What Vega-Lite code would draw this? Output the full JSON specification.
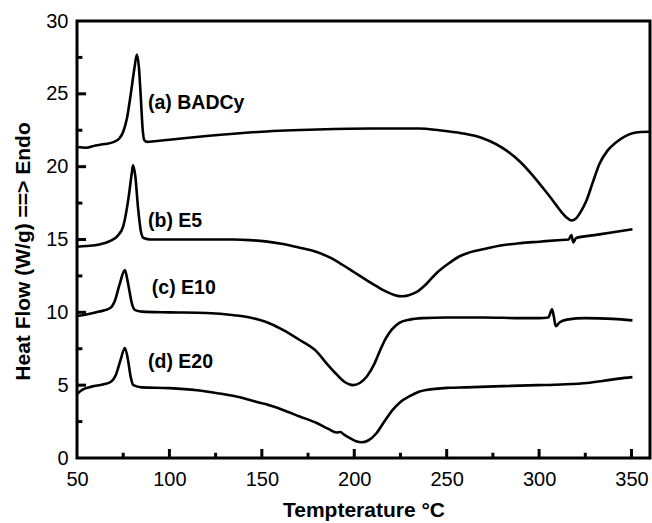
{
  "$schema": "https://vega.github.io/schema/vega-lite/v6.json",
  "width": 573,
  "height": 437,
  "autosize": {"type": "none"},
  "padding": {"left": 77, "top": 21, "right": 2, "bottom": 65},
  "background": "white",
  "config": {
    "view": {"stroke": "black", "strokeWidth": 3},
    "font": "Liberation Sans",
    "axis": {
      "grid": false,
      "domain": false,
      "ticks": false,
      "labelColor": "black",
      "labelFont": "Liberation Sans",
      "labelFontSize": 20,
      "labelFlush": false,
      "labelOverlap": false,
      "titleColor": "black",
      "titleFont": "Liberation Sans",
      "titleFontSize": 21,
      "titleFontWeight": "bold"
    }
  },
  "datasets": {
    "curves": [
      {"sample": "a", "T": 50, "H": 21.35}, {"sample": "a", "T": 55, "H": 21.3}, {"sample": "a", "T": 60, "H": 21.45}, {"sample": "a", "T": 65, "H": 21.55}, {"sample": "a", "T": 70, "H": 21.7}, {"sample": "a", "T": 73, "H": 21.95}, {"sample": "a", "T": 75, "H": 22.4}, {"sample": "a", "T": 77, "H": 23.3}, {"sample": "a", "T": 79, "H": 24.9}, {"sample": "a", "T": 81, "H": 26.7}, {"sample": "a", "T": 82.4, "H": 27.7}, {"sample": "a", "T": 83.5, "H": 26.8}, {"sample": "a", "T": 84.5, "H": 24.8}, {"sample": "a", "T": 85.5, "H": 22.6}, {"sample": "a", "T": 86.5, "H": 21.8}, {"sample": "a", "T": 88, "H": 21.7}, {"sample": "a", "T": 92, "H": 21.75}, {"sample": "a", "T": 100, "H": 21.85}, {"sample": "a", "T": 120, "H": 22.1}, {"sample": "a", "T": 150, "H": 22.4}, {"sample": "a", "T": 180, "H": 22.55}, {"sample": "a", "T": 210, "H": 22.62}, {"sample": "a", "T": 235, "H": 22.62}, {"sample": "a", "T": 246, "H": 22.5}, {"sample": "a", "T": 258, "H": 22.3}, {"sample": "a", "T": 269.5, "H": 21.95}, {"sample": "a", "T": 282.4, "H": 21.1}, {"sample": "a", "T": 290, "H": 20.3}, {"sample": "a", "T": 296.5, "H": 19.4}, {"sample": "a", "T": 302, "H": 18.55}, {"sample": "a", "T": 307.3, "H": 17.7}, {"sample": "a", "T": 312, "H": 16.9}, {"sample": "a", "T": 315, "H": 16.5}, {"sample": "a", "T": 317.6, "H": 16.3}, {"sample": "a", "T": 320, "H": 16.45}, {"sample": "a", "T": 322.5, "H": 16.9}, {"sample": "a", "T": 325.7, "H": 17.7}, {"sample": "a", "T": 329, "H": 18.9}, {"sample": "a", "T": 332.7, "H": 20.2}, {"sample": "a", "T": 337, "H": 21.1}, {"sample": "a", "T": 341.9, "H": 21.7}, {"sample": "a", "T": 346, "H": 22.05}, {"sample": "a", "T": 350.5, "H": 22.3}, {"sample": "a", "T": 355, "H": 22.38}, {"sample": "a", "T": 360, "H": 22.4},
      {"sample": "b", "T": 50, "H": 14.5}, {"sample": "b", "T": 55, "H": 14.55}, {"sample": "b", "T": 62, "H": 14.65}, {"sample": "b", "T": 68, "H": 14.9}, {"sample": "b", "T": 72, "H": 15.25}, {"sample": "b", "T": 75, "H": 15.9}, {"sample": "b", "T": 77.7, "H": 17.7}, {"sample": "b", "T": 79.7, "H": 19.6}, {"sample": "b", "T": 80.3, "H": 20.1}, {"sample": "b", "T": 81.5, "H": 19.4}, {"sample": "b", "T": 83, "H": 17.2}, {"sample": "b", "T": 84.5, "H": 15.6}, {"sample": "b", "T": 86, "H": 15.1}, {"sample": "b", "T": 90, "H": 15.0}, {"sample": "b", "T": 110, "H": 15.0}, {"sample": "b", "T": 135, "H": 15.0}, {"sample": "b", "T": 143.5, "H": 14.96}, {"sample": "b", "T": 152, "H": 14.87}, {"sample": "b", "T": 161.4, "H": 14.69}, {"sample": "b", "T": 170, "H": 14.45}, {"sample": "b", "T": 179.7, "H": 14.14}, {"sample": "b", "T": 187, "H": 13.75}, {"sample": "b", "T": 193.8, "H": 13.25}, {"sample": "b", "T": 200, "H": 12.75}, {"sample": "b", "T": 206.8, "H": 12.2}, {"sample": "b", "T": 212, "H": 11.8}, {"sample": "b", "T": 217.6, "H": 11.4}, {"sample": "b", "T": 222, "H": 11.18}, {"sample": "b", "T": 225.7, "H": 11.1}, {"sample": "b", "T": 229.5, "H": 11.18}, {"sample": "b", "T": 233.8, "H": 11.4}, {"sample": "b", "T": 239, "H": 11.95}, {"sample": "b", "T": 244.6, "H": 12.7}, {"sample": "b", "T": 251.6, "H": 13.4}, {"sample": "b", "T": 257, "H": 13.85}, {"sample": "b", "T": 262, "H": 14.1}, {"sample": "b", "T": 272, "H": 14.4}, {"sample": "b", "T": 280, "H": 14.6}, {"sample": "b", "T": 290, "H": 14.75}, {"sample": "b", "T": 300, "H": 14.85}, {"sample": "b", "T": 310, "H": 14.95}, {"sample": "b", "T": 316, "H": 15.0}, {"sample": "b", "T": 317.5, "H": 15.3}, {"sample": "b", "T": 318.5, "H": 14.8}, {"sample": "b", "T": 320, "H": 15.1}, {"sample": "b", "T": 330, "H": 15.3}, {"sample": "b", "T": 340, "H": 15.5}, {"sample": "b", "T": 350.5, "H": 15.7},
      {"sample": "c", "T": 50, "H": 9.75}, {"sample": "c", "T": 55, "H": 9.85}, {"sample": "c", "T": 62, "H": 10.05}, {"sample": "c", "T": 68, "H": 10.3}, {"sample": "c", "T": 70.5, "H": 10.8}, {"sample": "c", "T": 73, "H": 11.9}, {"sample": "c", "T": 75.9, "H": 12.9}, {"sample": "c", "T": 77.6, "H": 12.0}, {"sample": "c", "T": 79.7, "H": 10.6}, {"sample": "c", "T": 81.5, "H": 10.15}, {"sample": "c", "T": 85, "H": 10.05}, {"sample": "c", "T": 100, "H": 10.0}, {"sample": "c", "T": 120, "H": 9.95}, {"sample": "c", "T": 135, "H": 9.8}, {"sample": "c", "T": 143.5, "H": 9.65}, {"sample": "c", "T": 152, "H": 9.35}, {"sample": "c", "T": 161.4, "H": 8.8}, {"sample": "c", "T": 170.5, "H": 8.1}, {"sample": "c", "T": 179.7, "H": 7.3}, {"sample": "c", "T": 185, "H": 6.5}, {"sample": "c", "T": 190, "H": 5.8}, {"sample": "c", "T": 195, "H": 5.2}, {"sample": "c", "T": 199.2, "H": 5.0}, {"sample": "c", "T": 203, "H": 5.15}, {"sample": "c", "T": 206.8, "H": 5.6}, {"sample": "c", "T": 211, "H": 6.5}, {"sample": "c", "T": 214, "H": 7.4}, {"sample": "c", "T": 217, "H": 8.2}, {"sample": "c", "T": 220.5, "H": 8.85}, {"sample": "c", "T": 224.6, "H": 9.3}, {"sample": "c", "T": 230, "H": 9.5}, {"sample": "c", "T": 237, "H": 9.6}, {"sample": "c", "T": 250, "H": 9.65}, {"sample": "c", "T": 270, "H": 9.65}, {"sample": "c", "T": 290, "H": 9.6}, {"sample": "c", "T": 300, "H": 9.6}, {"sample": "c", "T": 305, "H": 9.65}, {"sample": "c", "T": 307, "H": 10.2}, {"sample": "c", "T": 308, "H": 9.7}, {"sample": "c", "T": 309, "H": 9.05}, {"sample": "c", "T": 311, "H": 9.3}, {"sample": "c", "T": 315, "H": 9.5}, {"sample": "c", "T": 325, "H": 9.6}, {"sample": "c", "T": 340, "H": 9.55}, {"sample": "c", "T": 350.5, "H": 9.45},
      {"sample": "d", "T": 50, "H": 4.4}, {"sample": "d", "T": 53, "H": 4.7}, {"sample": "d", "T": 58, "H": 4.9}, {"sample": "d", "T": 64, "H": 5.05}, {"sample": "d", "T": 68, "H": 5.2}, {"sample": "d", "T": 71, "H": 5.7}, {"sample": "d", "T": 73.5, "H": 6.7}, {"sample": "d", "T": 75.9, "H": 7.55}, {"sample": "d", "T": 77.5, "H": 6.8}, {"sample": "d", "T": 79, "H": 5.6}, {"sample": "d", "T": 80.5, "H": 5.0}, {"sample": "d", "T": 85, "H": 4.85}, {"sample": "d", "T": 100, "H": 4.8}, {"sample": "d", "T": 115, "H": 4.65}, {"sample": "d", "T": 126, "H": 4.45}, {"sample": "d", "T": 135, "H": 4.25}, {"sample": "d", "T": 143.5, "H": 3.98}, {"sample": "d", "T": 152, "H": 3.7}, {"sample": "d", "T": 161.4, "H": 3.3}, {"sample": "d", "T": 170.5, "H": 2.85}, {"sample": "d", "T": 179.7, "H": 2.4}, {"sample": "d", "T": 186, "H": 2.0}, {"sample": "d", "T": 190.5, "H": 1.75}, {"sample": "d", "T": 192.5, "H": 1.78}, {"sample": "d", "T": 194.5, "H": 1.6}, {"sample": "d", "T": 197.6, "H": 1.37}, {"sample": "d", "T": 201, "H": 1.15}, {"sample": "d", "T": 204, "H": 1.08}, {"sample": "d", "T": 207.5, "H": 1.2}, {"sample": "d", "T": 212, "H": 1.7}, {"sample": "d", "T": 216, "H": 2.45}, {"sample": "d", "T": 220.8, "H": 3.3}, {"sample": "d", "T": 225, "H": 3.85}, {"sample": "d", "T": 230, "H": 4.25}, {"sample": "d", "T": 235, "H": 4.55}, {"sample": "d", "T": 239, "H": 4.67}, {"sample": "d", "T": 251.6, "H": 4.82}, {"sample": "d", "T": 260, "H": 4.85}, {"sample": "d", "T": 272, "H": 4.9}, {"sample": "d", "T": 285, "H": 4.95}, {"sample": "d", "T": 299, "H": 5.0}, {"sample": "d", "T": 312, "H": 5.05}, {"sample": "d", "T": 326, "H": 5.15}, {"sample": "d", "T": 335, "H": 5.3}, {"sample": "d", "T": 343, "H": 5.45}, {"sample": "d", "T": 350.5, "H": 5.55}
    ],
    "labels": [
      {"T": 88.4, "H": 24.4, "label": "(a) BADCy"},
      {"T": 88.4, "H": 16.3, "label": "(b) E5"},
      {"T": 90.5, "H": 11.7, "label": "(c) E10"},
      {"T": 88.4, "H": 6.6, "label": "(d) E20"}
    ],
    "xMajor": [{"T": 100}, {"T": 150}, {"T": 200}, {"T": 250}, {"T": 300}, {"T": 350}],
    "xMinor": [{"T": 75}, {"T": 125}, {"T": 175}, {"T": 225}, {"T": 275}, {"T": 325}],
    "yMajor": [{"H": 5}, {"H": 10}, {"H": 15}, {"H": 20}, {"H": 25}],
    "yMinor": [{"H": 2.5}, {"H": 7.5}, {"H": 12.5}, {"H": 17.5}, {"H": 22.5}, {"H": 27.5}]
  },
  "layer": [
    {
      "data": {"name": "curves"},
      "mark": {"type": "line", "color": "black", "strokeWidth": 2.6, "interpolate": "monotone"},
      "encoding": {
        "x": {
          "field": "T", "type": "quantitative",
          "scale": {"domain": [50, 360], "nice": false, "zero": false},
          "axis": {"orient": "bottom", "values": [50, 100, 150, 200, 250, 300, 350], "labelPadding": 11, "title": "Tempterature °C", "titlePadding": 10}
        },
        "y": {
          "field": "H", "type": "quantitative",
          "scale": {"domain": [0, 30], "nice": false, "zero": false},
          "axis": {"orient": "left", "values": [0, 5, 10, 15, 20, 25, 30], "labelPadding": 9, "title": "Heat Flow (W/g) ==> Endo", "titlePadding": 12, "titleY": 230}
        },
        "detail": {"field": "sample"}
      }
    },
    {
      "data": {"name": "labels"},
      "mark": {"type": "text", "align": "left", "baseline": "middle", "fontSize": 19.5, "fontWeight": "bold", "font": "Liberation Sans", "color": "black"},
      "encoding": {
        "x": {"field": "T", "type": "quantitative",
          "axis": {"orient": "bottom", "values": [50, 100, 150, 200, 250, 300, 350], "labelPadding": 11, "title": "Tempterature °C", "titlePadding": 10}},
        "y": {"field": "H", "type": "quantitative",
          "axis": {"orient": "left", "values": [0, 5, 10, 15, 20, 25, 30], "labelPadding": 9, "title": "Heat Flow (W/g) ==> Endo", "titlePadding": 12, "titleY": 230}},
        "text": {"field": "label"}
      }
    },
    {
      "data": {"name": "xMajor"},
      "mark": {"type": "rule", "color": "black", "strokeWidth": 3},
      "encoding": {
        "x": {"field": "T", "type": "quantitative",
          "axis": {"orient": "bottom", "values": [50, 100, 150, 200, 250, 300, 350], "labelPadding": 11, "title": "Tempterature °C", "titlePadding": 10}},
        "y": {"datum": 0, "type": "quantitative",
          "axis": {"orient": "left", "values": [0, 5, 10, 15, 20, 25, 30], "labelPadding": 9, "title": "Heat Flow (W/g) ==> Endo", "titlePadding": 12, "titleY": 230}},
        "y2": {"datum": 0.62}
      }
    },
    {
      "data": {"name": "xMinor"},
      "mark": {"type": "rule", "color": "black", "strokeWidth": 3},
      "encoding": {
        "x": {"field": "T", "type": "quantitative",
          "axis": {"orient": "bottom", "values": [50, 100, 150, 200, 250, 300, 350], "labelPadding": 11, "title": "Tempterature °C", "titlePadding": 10}},
        "y": {"datum": 0, "type": "quantitative",
          "axis": {"orient": "left", "values": [0, 5, 10, 15, 20, 25, 30], "labelPadding": 9, "title": "Heat Flow (W/g) ==> Endo", "titlePadding": 12, "titleY": 230}},
        "y2": {"datum": 0.36}
      }
    },
    {
      "data": {"name": "yMajor"},
      "mark": {"type": "rule", "color": "black", "strokeWidth": 3},
      "encoding": {
        "y": {"field": "H", "type": "quantitative",
          "axis": {"orient": "left", "values": [0, 5, 10, 15, 20, 25, 30], "labelPadding": 9, "title": "Heat Flow (W/g) ==> Endo", "titlePadding": 12, "titleY": 230}},
        "x": {"datum": 50, "type": "quantitative",
          "axis": {"orient": "bottom", "values": [50, 100, 150, 200, 250, 300, 350], "labelPadding": 11, "title": "Tempterature °C", "titlePadding": 10}},
        "x2": {"datum": 54.9}
      }
    },
    {
      "data": {"name": "yMinor"},
      "mark": {"type": "rule", "color": "black", "strokeWidth": 3},
      "encoding": {
        "y": {"field": "H", "type": "quantitative",
          "axis": {"orient": "left", "values": [0, 5, 10, 15, 20, 25, 30], "labelPadding": 9, "title": "Heat Flow (W/g) ==> Endo", "titlePadding": 12, "titleY": 230}},
        "x": {"datum": 50, "type": "quantitative",
          "axis": {"orient": "bottom", "values": [50, 100, 150, 200, 250, 300, 350], "labelPadding": 11, "title": "Tempterature °C", "titlePadding": 10}},
        "x2": {"datum": 52.9}
      }
    }
  ]
}
